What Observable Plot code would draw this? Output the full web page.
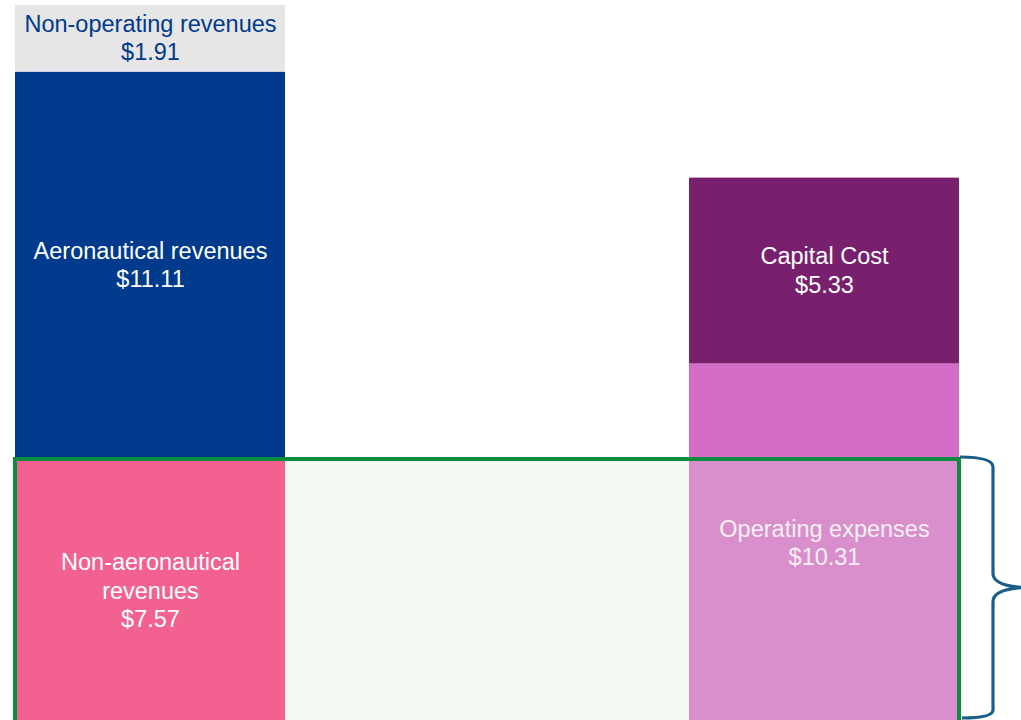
<!DOCTYPE html>
<html><head><meta charset="utf-8">
<script src="https://cdn.jsdelivr.net/npm/d3@7"></script>
<script src="https://cdn.jsdelivr.net/npm/@observablehq/plot@0.6"></script>
<style>body{margin:0;background:#fff;overflow:hidden}</style>
</head><body><div id="chart"></div>
<script>
// ---- data ----
const bars = ["Revenues", "Costs"];
const segmentBar = ["Revenues", "Revenues", "Revenues", "Costs", "Costs"];
const segmentNames = ["Non-aeronautical\nrevenues", "Aeronautical revenues", "Non-operating revenues", "Operating expenses", "Capital Cost"];
const segmentValues = [7.57, 11.11, 1.91, 10.31, 5.33];

// ---- styles ----
const segmentFill = {
  "Non-aeronautical\nrevenues": "#F26190",
  "Aeronautical revenues": "#003A8C",
  "Non-operating revenues": "#E6E6E6",
  "Operating expenses": "#D56CC8",
  "Capital Cost": "#78206E"
};
const labelFill = {
  "Non-aeronautical\nrevenues": "#FFFFFF",
  "Aeronautical revenues": "#FFFFFF",
  "Non-operating revenues": "#003A8C",
  "Operating expenses": "#F6F0F4",
  "Capital Cost": "#FFFFFF"
};

const segments = segmentNames.map((name, i) => ({bar: segmentBar[i], name, value: segmentValues[i]}));
const revenueTotal = d3.sum(segments.filter(d => d.bar === "Revenues"), d => d.value);
const nonAero = segments[0].value;           // height of the highlighted box
const opex = segments[3].value;

const font = "'Liberation Sans', Arial, sans-serif";

function boxMark(kind) {
  return (index, {x, y}) => {
    const g = d3.create("svg:g");
    const x1 = x(bars[0]);
    const x2 = x(bars[1]) + x.bandwidth();
    const y1 = y(nonAero), y2 = y(0);
    g.append("rect")
      .attr("x", x1).attr("y", y1)
      .attr("width", x2 - x1).attr("height", y2 - y1)
      .attr("fill", kind === "fill" ? "#F3F9F1" : "none")
      .attr("stroke", kind === "fill" ? "none" : "#0B8C3E")
      .attr("stroke-width", 4);
    return g.node();
  };
}

function braceMark(index, {x, y}) {
  const xr = x(bars[1]) + x.bandwidth();
  const yt = y(nonAero) - 2;
  const yb = y(0) - 5;
  const ym = (yt + yb) / 2;
  const xv = xr + 34;
  const xt = xr + 64;
  const p = `M${xr + 1},${yt} Q${xv},${yt} ${xv},${yt + 10} L${xv},${ym - 14} Q${xv},${ym - 2} ${xt},${ym} Q${xv},${ym + 2} ${xv},${ym + 14} L${xv},${yb - 8} Q${xv},${yb} ${xr + 3},${yb}`;
  return d3.create("svg:path")
    .attr("d", p)
    .attr("fill", "none")
    .attr("stroke", "#1B5F87")
    .attr("stroke-width", 3.2)
    .node();
}

const chart = Plot.plot({
  width: 1021,
  height: 723,
  marginTop: 5,
  marginBottom: 0,
  marginLeft: 15,
  marginRight: 62,
  style: {background: "white", fontFamily: font, overflow: "visible"},
  x: {type: "band", domain: bars, paddingInner: 0.6, paddingOuter: 0, axis: null},
  y: {domain: [0, revenueTotal], axis: null},
  color: {type: "identity"},
  marks: [
    boxMark("fill"),
    Plot.barY(segments, {x: "bar", y: "value", fill: d => segmentFill[d.name], inset: 0}),
    Plot.barY([{bar: "Costs", lo: 0, hi: Math.min(opex, nonAero)}], {x: "bar", y1: "lo", y2: "hi", fill: "#D98FCB", inset: 0}),
    boxMark("stroke"),
    Plot.text(segments, Plot.stackY({
      x: "bar", y: "value",
      text: d => `${d.name}\n$${d.value.toFixed(2)}`,
      fill: d => labelFill[d.name],
      fontSize: 23.5,
      fontFamily: font,
      lineHeight: 1.22,
      dy: -2
    })),
    braceMark
  ]
});
document.getElementById("chart").appendChild(chart);
</script>
</body></html>
